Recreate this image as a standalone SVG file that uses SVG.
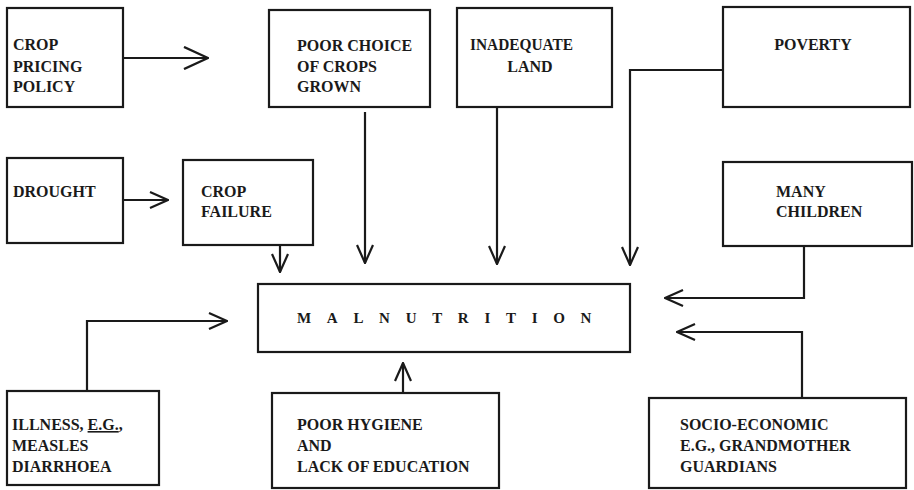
<svg xmlns="http://www.w3.org/2000/svg" width="914" height="490" viewBox="0 0 914 490">
<defs>
<marker id="ah" viewBox="0 0 20 18" refX="19" refY="9" markerWidth="20" markerHeight="18" markerUnits="userSpaceOnUse" orient="auto">
<path d="M1,1 L19,9 L1,17" fill="none" stroke="#1a1a1a" stroke-width="2.2"/>
</marker>
<marker id="ahl" viewBox="0 0 26 24" refX="25" refY="12" markerWidth="26" markerHeight="24" markerUnits="userSpaceOnUse" orient="auto">
<path d="M1,1 L25,12 L1,23" fill="none" stroke="#1a1a1a" stroke-width="2.4"/>
</marker>
<style>
.box{fill:#fff;stroke:#1a1a1a;stroke-width:2.2}
.t{font-family:"Liberation Serif","Times New Roman",serif;font-weight:bold;font-size:16px;fill:#1a1a1a}
.c{fill:none;stroke:#1a1a1a;stroke-width:2.2;marker-end:url(#ah)}
</style>
</defs>
<rect width="914" height="490" fill="#fff"/>
<g id="crop-pricing"><rect class="box" x="7" y="8" width="116" height="99"/>
<text class="t" x="13" y="50">CROP</text><text class="t" x="13" y="72">PRICING</text><text class="t" x="13" y="92">POLICY</text></g>
<g id="poor-choice"><rect class="box" x="269" y="10" width="161" height="97"/>
<text class="t" x="297" y="51">POOR CHOICE</text><text class="t" x="297" y="72">OF CROPS</text><text class="t" x="297" y="92">GROWN</text></g>
<g id="inadequate-land"><rect class="box" x="457" y="8" width="155" height="99"/>
<text class="t" x="470" y="50" textLength="103" lengthAdjust="spacingAndGlyphs">INADEQUATE</text><text class="t" x="530" y="72" text-anchor="middle">LAND</text></g>
<g id="poverty"><rect class="box" x="723" y="7" width="187" height="100"/>
<text class="t" x="813" y="50" text-anchor="middle">POVERTY</text></g>
<g id="drought"><rect class="box" x="7" y="158" width="116" height="85"/>
<text class="t" x="13" y="197">DROUGHT</text></g>
<g id="crop-failure"><rect class="box" x="183" y="160" width="130" height="85"/>
<text class="t" x="201" y="197">CROP</text><text class="t" x="201" y="217">FAILURE</text></g>
<g id="many-children"><rect class="box" x="723" y="162" width="189" height="84"/>
<text class="t" x="776" y="197">MANY</text><text class="t" x="776" y="217">CHILDREN</text></g>
<g id="malnutrition"><rect class="box" x="258" y="284" width="372" height="68"/>
<text class="t" x="297" y="323" style="font-size:15px;letter-spacing:15.7px">MALNUTRITION</text></g>
<g id="illness"><rect class="box" x="7" y="391" width="152" height="94"/>
<text class="t" x="12" y="430">ILLNESS, <tspan text-decoration="underline">E.G.</tspan>,</text><text class="t" x="12" y="451">MEASLES</text><text class="t" x="12" y="472">DIARRHOEA</text></g>
<g id="poor-hygiene"><rect class="box" x="272" y="393" width="227" height="95"/>
<text class="t" x="297" y="430">POOR HYGIENE</text><text class="t" x="297" y="451">AND</text><text class="t" x="297" y="472">LACK OF EDUCATION</text></g>
<g id="socio-economic"><rect class="box" x="649" y="398" width="257" height="90"/>
<text class="t" x="680" y="430">SOCIO-ECONOMIC</text><text class="t" x="680" y="451">E.G., GRANDMOTHER</text><text class="t" x="680" y="472">GUARDIANS</text></g>
<g id="connectors">
<path class="c" d="M123,58 H208" style="marker-end:url(#ahl)"/>
<path class="c" d="M123,200 H168"/>
<path class="c" d="M280,245 V272"/>
<path class="c" d="M365,112 V263"/>
<path class="c" d="M497,107 V264"/>
<path class="c" d="M723,70 H630 V265"/>
<path class="c" d="M804,246 V298 H665"/>
<path class="c" d="M802,398 V332 H677"/>
<path class="c" d="M87,391 V321 H227"/>
<path class="c" d="M403,393 V363"/>
</g>
</svg>
